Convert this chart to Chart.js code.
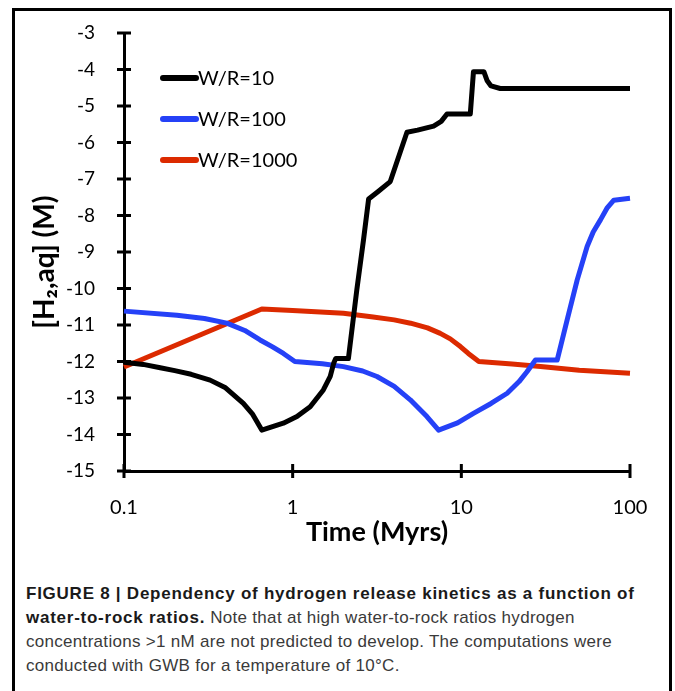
<!DOCTYPE html>
<html>
<head>
<meta charset="utf-8">
<script src="https://cdn.jsdelivr.net/npm/chart.js@4/dist/chart.umd.min.js"></script>
<style>
  html, body { margin: 0; padding: 0; background: #fff; }
  body { width: 675px; height: 691px; position: relative; overflow: hidden; }
  #frame { position: absolute; left: 12px; top: 8px; width: 654px; height: 720px; border: 3px solid #000; }
  #grafico { position: absolute; left: 0; top: 0; }
  #caption {
    position: absolute; left: 26px; top: 582px; width: 640px;
    font-family: "Liberation Sans", Arial, sans-serif; font-size: 17px; line-height: 24px;
    letter-spacing: 0.3px; color: #3a3a3a; white-space: nowrap;
  }
  #caption b { color: #1a1a1a; letter-spacing: 0.75px; }
</style>
</head>
<body>
<div id="frame"></div>
<canvas id="grafico" width="675" height="560"></canvas>
<div id="caption">
  <b>FIGURE 8 | Dependency of hydrogen release kinetics as a function of</b><br>
  <b>water-to-rock ratios.</b> Note that at high water-to-rock ratios hydrogen<br>
  concentrations &gt;1 nM are not predicted to develop. The computations were<br>
  conducted with GWB for a temperature of 10°C.
</div>
<script>
// Datos (tiempo en Myrs, log10 [H2,aq] en M)
const seriesLabels = ["W/R=10", "W/R=100", "W/R=1000"];
const seriesColors = ["#000000", "#2541f7", "#dc2a00"];

const timeWR10 = [0.1, 0.13, 0.164, 0.2, 0.25, 0.324, 0.4, 0.51, 0.58, 0.656, 0.88, 1.06, 1.27, 1.52, 1.67, 1.75, 1.8, 2.14, 2.4, 2.63, 2.82, 3.2, 3.79, 4.76, 5.5, 6.85, 7.6, 8.22, 11.3, 11.8, 13.6, 14.2, 15.0, 17, 100];
const h2WR10 = [-12.02, -12.08, -12.17, -12.25, -12.35, -12.51, -12.72, -13.15, -13.45, -13.88, -13.69, -13.51, -13.24, -12.78, -12.41, -12.05, -11.92, -11.92, -10.04, -8.67, -7.55, -7.35, -7.07, -5.72, -5.66, -5.55, -5.42, -5.22, -5.22, -4.06, -4.06, -4.3, -4.45, -4.52, -4.52];

const timeWR100 = [0.1, 0.206, 0.3, 0.407, 0.52, 0.641, 0.76, 0.881, 1.03, 1.5, 2.0, 2.6, 3.16, 4.0, 4.98, 6.25, 7.33, 9.5, 11.8, 15, 18.7, 22, 24.5, 27.5, 37.0, 42.4, 48.6, 55.7, 60.5, 66.8, 73, 80.2, 100];
const h2WR100 = [-10.62, -10.73, -10.82, -10.95, -11.15, -11.41, -11.6, -11.78, -12.0, -12.06, -12.14, -12.26, -12.41, -12.68, -13.05, -13.51, -13.88, -13.68, -13.42, -13.15, -12.87, -12.55, -12.28, -11.96, -11.96, -10.86, -9.77, -8.85, -8.45, -8.12, -7.8, -7.58, -7.53];

const timeWR1000 = [0.1, 0.656, 1.0, 2.0, 3.0, 4.0, 5.0, 6.3, 7.5, 8.6, 9.87, 11.0, 12.7, 20, 29.5, 50, 100];
const h2WR1000 = [-12.15, -10.56, -10.6, -10.68, -10.78, -10.86, -10.95, -11.08, -11.23, -11.38, -11.59, -11.78, -12.0, -12.07, -12.14, -12.24, -12.32];

const xTicks = [0.1, 1, 10, 100];
const yMin = -15, yMax = -3;

const puntos = (ts, vs) => ts.map((t, i) => ({ x: t, y: vs[i] }));
const allTimes = [timeWR10, timeWR100, timeWR1000];
const allValues = [h2WR10, h2WR100, h2WR1000];

const datasets = seriesLabels.map((label, i) => ({
    label: label,
    data: puntos(allTimes[i], allValues[i]),
    borderColor: seriesColors[i],
    backgroundColor: seriesColors[i],
    borderWidth: 5,
    pointRadius: 0,
    tension: 0,
    fill: false,
    clip: false,
    borderJoinStyle: "round",
}));

// marcas de los ejes que cruzan la linea del eje
const crossTicks = {
    id: "crossTicks",
    afterDraw(chart) {
        const { ctx, scales: { x, y }, chartArea } = chart;
        ctx.save();
        ctx.strokeStyle = "#000";
        ctx.lineWidth = 3;
        ctx.beginPath();
        for (let v = yMin; v <= yMax; v++) {
            const py = y.getPixelForValue(v);
            ctx.moveTo(chartArea.left - 7, py);
            ctx.lineTo(chartArea.left + 7, py);
        }
        xTicks.forEach((v) => {
            const px = x.getPixelForValue(v);
            ctx.moveTo(px, chartArea.bottom - 7);
            ctx.lineTo(px, chartArea.bottom + 7);
        });
        ctx.stroke();
        ctx.restore();
    },
};

// leyenda dentro del area del grafico
const insideLegend = {
    id: "insideLegend",
    afterDraw(chart) {
        const { ctx, chartArea } = chart;
        ctx.save();
        ctx.font = "20px Lato";
        ctx.textBaseline = "middle";
        chart.data.datasets.forEach((ds, i) => {
            const yy = chartArea.top + 45 + i * 41;
            ctx.strokeStyle = ds.borderColor;
            ctx.lineWidth = 6;
            ctx.lineCap = "round";
            ctx.beginPath();
            ctx.moveTo(chartArea.left + 39, yy);
            ctx.lineTo(chartArea.left + 72, yy);
            ctx.stroke();
            ctx.fillStyle = "#000";
            ctx.fillText(ds.label, chartArea.left + 74, yy + 1);
        });
        ctx.restore();
    },
};

const ctx = document.getElementById("grafico").getContext("2d");
new Chart(ctx, {
    type: "line",
    data: { datasets: datasets },
    options: {
        responsive: false,
        animation: false,
        devicePixelRatio: 1,
        layout: { padding: { left: 0, top: 33, right: 45, bottom: 0 } },
        plugins: {
            legend: { display: false },
            tooltip: { enabled: false },
        },
        scales: {
            x: {
                type: "logarithmic",
                min: 0.1,
                max: 100,
                afterBuildTicks: (scale) => {
                    scale.ticks = xTicks.map((v) => ({ value: v }));
                },
                afterFit: (scale) => { scale.height = 89; },
                grid: { display: false },
                border: { color: "#000", width: 3 },
                ticks: {
                    color: "#000",
                    font: { family: "Lato", size: 20 },
                    padding: 17,
                    maxRotation: 0,
                    callback: (v) => String(v),
                },
                title: {
                    display: true,
                    text: "Time (Myrs)",
                    color: "#000",
                    font: { family: "Lato", size: 27, weight: "bold" },
                    padding: { top: 0, bottom: 12 },
                },
            },
            y: {
                min: yMin,
                max: yMax,
                afterFit: (scale) => { scale.width = 124; },
                grid: { display: false },
                border: { color: "#000", width: 3 },
                ticks: {
                    stepSize: 1,
                    color: "#000",
                    font: { family: "Lato", size: 19 },
                    padding: 21,
                    callback: (v) => String(v),
                },
                title: {
                    display: true,
                    text: "[H\u2082,aq] (M)   ",
                    color: "#000",
                    font: { family: "Lato", size: 28, weight: "bold" },
                    padding: { top: 28, bottom: 0 },
                },
            },
        },
    },
    plugins: [crossTicks, insideLegend],
});
</script>
</body>
</html>
